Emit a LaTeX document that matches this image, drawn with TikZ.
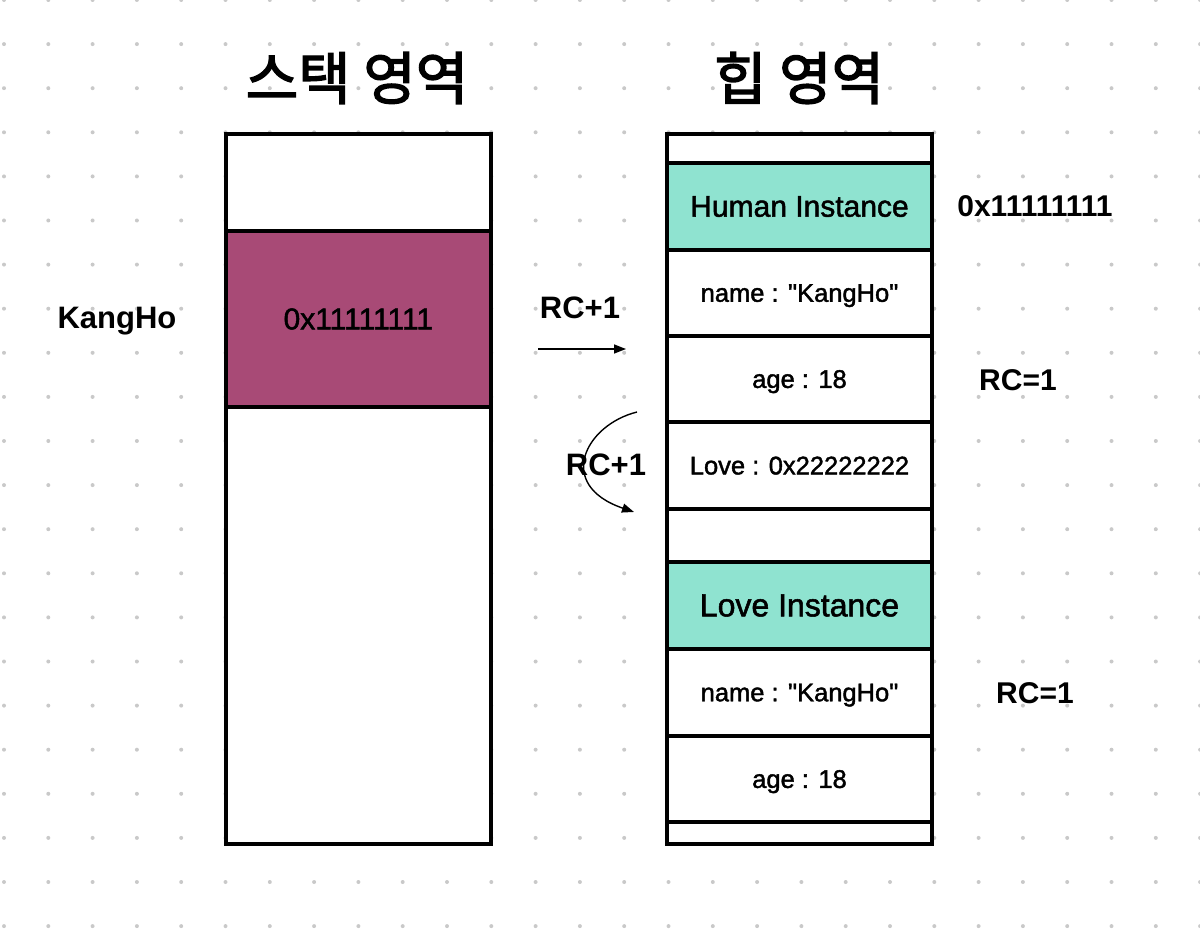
\documentclass[tikz,border=0pt]{standalone}
\usepackage{fontspec}
\setmainfont{Liberation Sans}
\newfontfamily\medfont{Liberation Sans}[FakeBold=1.6]
\newfontfamily\krfont{Noto Sans CJK KR}[FakeBold=2.5]
\usetikzlibrary{arrows.meta}
\definecolor{dotc}{HTML}{C9C9C9}
\definecolor{plum}{HTML}{A84A76}
\definecolor{teal2}{HTML}{8FE3D0}
\tikzset{
  cell/.style={draw=black, line width=4pt, fill=white, minimum width=265pt, inner sep=0pt, anchor=north},
  scell/.style={cell, minimum width=264.7pt},
  title/.style={font=\krfont\fontsize{57}{62}\selectfont},
  biglbl/.style={font=\fontsize{31}{36}\selectfont\bfseries, inner sep=0pt},
  midlbl/.style={font=\medfont\fontsize{25.5}{30}\selectfont, text depth=0pt},
  instlbl/.style={font=\medfont\fontsize{30}{34}\selectfont},
  ptr/.style={line width=1.4pt, -{Triangle[length=12pt,width=9pt]}},
}
\begin{document}
\begin{tikzpicture}[x=1pt,y=-1pt]
\useasboundingbox (0,0) rectangle (1200,936);
% dot grid
\foreach \i in {0,...,27}{
  \foreach \j in {0,...,21}{
    \fill[dotc] ({4+44.3*\i},{44.1*\j}) circle (2pt);
  }
}
% titles
\node[title] (t1) at (357,78) {스택 영역};
\node[title] (t2) at (799,78) {힙 영역};
% stack
\node[scell, minimum height=97pt] (s0) at (358.35,132) {};
\node[scell, minimum height=176pt, fill=plum, font=\medfont\fontsize{30}{34}\selectfont] (s1) at (358.35,229) {0x11111111};
\node[scell, minimum height=437pt] (s2) at (358.35,405) {};
% heap
\node[cell, minimum height=29pt] (h0) at (799.5,132) {};
\node[cell, minimum height=87pt, fill=teal2, instlbl] (h1) at (799.5,161) {Human Instance};
\node[cell, minimum height=86pt, midlbl] (h2) at (799.5,248) {name : "KangHo"};
\node[cell, minimum height=86pt, midlbl] (h3) at (799.5,334) {age : 18};
\node[cell, minimum height=87pt, midlbl] (h4) at (799.5,420) {Love : 0x22222222};
\node[cell, minimum height=53pt] (h5) at (799.5,507) {};
\node[cell, minimum height=87pt, fill=teal2, font=\medfont\fontsize{32}{36}\selectfont] (h6) at (799.5,560) {Love Instance};
\node[cell, minimum height=87pt, midlbl] (h7) at (799.5,647) {name : "KangHo"};
\node[cell, minimum height=86pt, midlbl] (h8) at (799.5,734) {age : 18};
\node[cell, minimum height=22pt] (h9) at (799.5,820) {};
% labels
\node[biglbl] (kh) at (117,321) {KangHo};
\node[biglbl] (rc1) at (580,308) {RC+1};
\node[biglbl] (rc2) at (606,465) {RC+1};
\node[biglbl, font=\fontsize{30}{34}\selectfont\bfseries] (addr) at (1035,206) {0x11111111};
\node[biglbl, font=\fontsize{30}{34}\selectfont\bfseries] (rc3) at (1018,380) {RC=1};
\node[biglbl, font=\fontsize{30}{34}\selectfont\bfseries] (rc4) at (1035,693) {RC=1};
% arrows
\coordinate (a1s) at (538,349);
\coordinate (a1e) at (626,349);
\draw[ptr] (a1s) -- (a1e);
\coordinate (a2s) at (637,412);
\coordinate (a2e) at (634,512);
\draw[ptr] (a2s) .. controls (585,425) and (555,485) .. (a2e);
\end{tikzpicture}
\end{document}
